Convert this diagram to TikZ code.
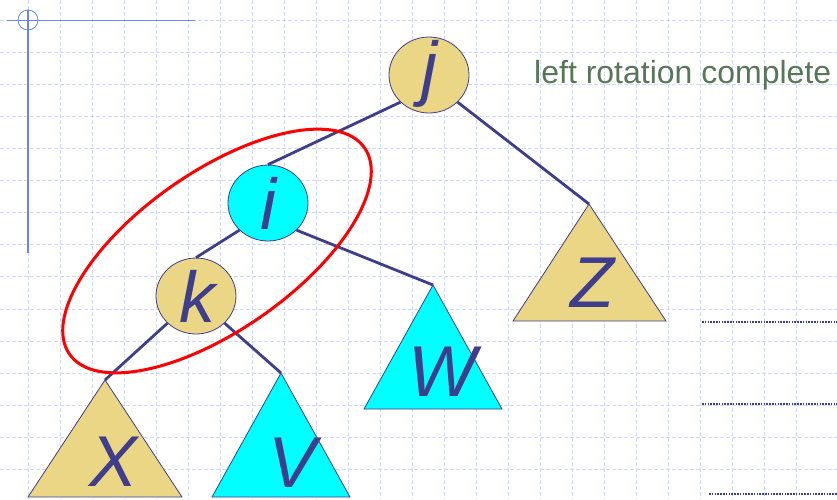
\documentclass[tikz,border=0pt]{standalone}
\usepackage{fontspec}
\setmainfont{Liberation Sans}
\usetikzlibrary{shapes.geometric}

\definecolor{tanFill}{RGB}{235,214,134}
\definecolor{cyanFill}{RGB}{0,255,255}
\definecolor{edgeBlue}{RGB}{62,62,140}
\definecolor{gridBlue}{RGB}{204,216,252}
\definecolor{markBlue}{RGB}{104,134,238}
\definecolor{noteGreen}{RGB}{88,118,88}

\begin{document}
\begin{tikzpicture}[
    x=1pt, y=-1pt,
    letter/.style={font=\fontsize{72}{72}\selectfont\itshape, text=edgeBlue, inner sep=0pt},
    tanNode/.style={ellipse, draw=edgeBlue, line width=0.8pt, fill=tanFill, minimum width=80pt, minimum height=76pt, inner sep=0pt},
    cyanNode/.style={tanNode, fill=cyanFill},
    edge/.style={draw=edgeBlue, line width=2.8pt},
    tanTri/.style={draw=edgeBlue, line width=0.8pt, fill=tanFill},
    cyanTri/.style={tanTri, fill=cyanFill},
    gridLine/.style={gridBlue, line width=0.8pt, dash pattern=on 4pt off 2pt},
    dotLine/.style={edgeBlue, line width=2.2pt, dash pattern=on 1.6pt off 1.2pt},
    ring/.style={draw=red, line width=3pt}
]
    \useasboundingbox (0,0) rectangle (837,499);
    \fill[white] (0,0) rectangle (837,499);

    % background grid
    \foreach \gx in {0,...,24} \draw[gridLine] (28+32*\gx,0) -- (28+32*\gx,499);
    \foreach \gy in {0,...,14} \draw[gridLine] (0,20+32.1*\gy) -- (837,20+32.1*\gy);

    % corner mark
    \draw[markBlue, line width=0.8pt] (7,20) -- (195,20);
    \draw[markBlue, line width=2pt] (28,10) -- (28,253);
    \draw[markBlue, line width=0.8pt] (28,20) circle [radius=10pt];

    % dotted rules on the right
    \draw[dotLine] (702,322) -- (837,322);
    \draw[dotLine] (702,404) -- (837,404);
    \draw[dotLine] (709,494) -- (837,494);

    % tree nodes
    \node[tanNode] (j) at (429,75) {};
    \node[cyanNode] (i) at (268,203) {};
    \node[tanNode] (k) at (196,296) {};
    \node[letter] (jLab) at (429,74) {j};
    \node[letter] (iLab) at (268,203) {i};
    \node[letter] (kLab) at (197,296) {k};

    % subtrees
    \coordinate (xTop) at (105,380);
    \coordinate (vTop) at (281,373);
    \coordinate (wTop) at (433,285);
    \coordinate (zTop) at (589,204);
    \draw[tanTri] (xTop) -- (28,497) -- (182,497) -- cycle;
    \draw[cyanTri] (vTop) -- (212,497) -- (350,497) -- cycle;
    \draw[cyanTri] (wTop) -- (364,409) -- (502,409) -- cycle;
    \draw[tanTri] (zTop) -- (513,321) -- (666,321) -- cycle;
    \node[letter] (xLab) at (114,462) {X};
    \node[letter] (vLab) at (293,463) {V};
    \node[letter] (wLab) at (442,372) {W};
    \node[letter] (zLab) at (592,283) {Z};

    % links
    \draw[edge] (j.south west) -- (i.north);
    \draw[edge] (j.south east) -- (zTop);
    \draw[edge] (i.south west) -- (k.north);
    \draw[edge] (i.south east) -- (wTop);
    \draw[edge] (k.south west) -- (xTop);
    \draw[edge] (k.south east) -- (vTop);

    % rotated pair
    \draw[ring, rotate around={35:(217,251)}] (217,251) ellipse [x radius=180pt, y radius=79pt];

    \node[anchor=base west, inner sep=0pt, text=noteGreen, font=\fontsize{32}{32}\selectfont] (note) at (534,83) {left rotation complete};
\end{tikzpicture}
\end{document}
